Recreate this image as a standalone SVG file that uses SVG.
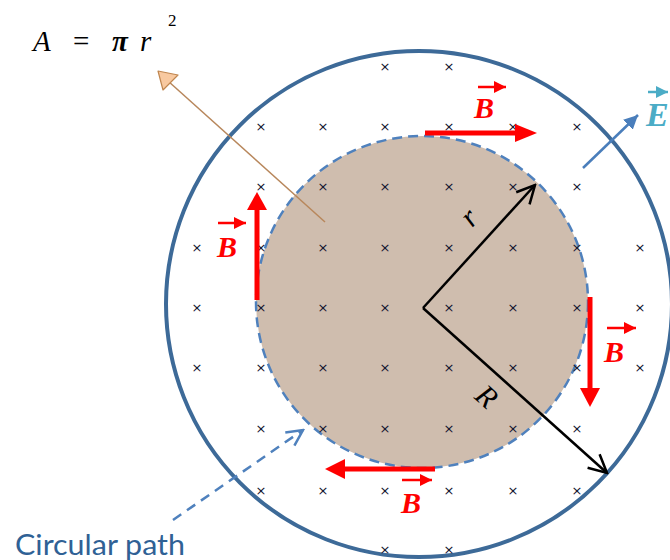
<svg xmlns="http://www.w3.org/2000/svg" width="670" height="560" viewBox="0 0 670 560">
<defs>
<style>
.x{font-family:"DejaVu Sans",sans-serif;font-size:13px;fill:#141430;text-anchor:middle}
.b{font-family:"Liberation Serif",serif;font-size:30px;font-weight:bold;font-style:italic;fill:#ff0000;text-anchor:middle}
.red{stroke:#ff0000;stroke-width:5;fill:none}
.redh{fill:#ff0000}
.vec{stroke:#ff0000;stroke-width:2.5}
.blk{stroke:#000;stroke-width:2.5;fill:none}
.math{font-family:"Liberation Serif",serif;font-style:italic;fill:#000}
</style>
<marker id="open" markerUnits="userSpaceOnUse" markerWidth="24" markerHeight="24" viewBox="0 0 24 24" refX="22" refY="12" orient="auto">
<path d="M4,3 L22,12 L4,21" fill="none" stroke="#000" stroke-width="2.5"/>
</marker>
<marker id="openblue" markerUnits="userSpaceOnUse" markerWidth="24" markerHeight="24" viewBox="0 0 24 24" refX="22" refY="12" orient="auto">
<path d="M6,4 L22,12 L6,20" fill="none" stroke="#4f81bd" stroke-width="2.5"/>
</marker>
<marker id="bluehead" markerUnits="userSpaceOnUse" markerWidth="16" markerHeight="16" viewBox="0 0 16 16" refX="14" refY="8" orient="auto">
<path d="M0,1 L14,8 L0,15 Z" fill="#4a7ebb"/>
</marker>
<marker id="vechead" markerUnits="userSpaceOnUse" markerWidth="14" markerHeight="14" viewBox="0 0 14 14" refX="12" refY="7" orient="auto">
<path d="M0,1 L12,7 L0,13 Z" fill="#ff0000"/>
</marker>
<marker id="vecheadE" markerUnits="userSpaceOnUse" markerWidth="14" markerHeight="14" viewBox="0 0 14 14" refX="12" refY="7" orient="auto">
<path d="M0,1 L12,7 L0,13 Z" fill="#4bacc6"/>
</marker>
</defs>
<rect width="670" height="560" fill="#fff"/>

<g id="inner-disk">
<circle cx="422" cy="302" r="166" fill="#cfbdae" stroke="#4f81bd" stroke-width="2.5" stroke-dasharray="10 6"/>
</g>

<g id="outer-circle">
<circle cx="419" cy="304" r="253" fill="none" stroke="#3d6a98" stroke-width="4"/>
</g>

<g id="field-marks">
<text class="x" x="385" y="71">×</text><text class="x" x="449" y="71">×</text>
<text class="x" x="261" y="131">×</text><text class="x" x="323" y="131">×</text><text class="x" x="385" y="131">×</text><text class="x" x="449" y="131">×</text><text class="x" x="513" y="131">×</text><text class="x" x="577" y="131">×</text>
<text class="x" x="261" y="191">×</text><text class="x" x="323" y="191">×</text><text class="x" x="385" y="191">×</text><text class="x" x="449" y="191">×</text><text class="x" x="513" y="191">×</text><text class="x" x="577" y="191">×</text>
<text class="x" x="197" y="252">×</text><text class="x" x="261" y="252">×</text><text class="x" x="323" y="252">×</text><text class="x" x="385" y="252">×</text><text class="x" x="449" y="252">×</text><text class="x" x="513" y="252">×</text><text class="x" x="577" y="252">×</text><text class="x" x="640" y="252">×</text>
<text class="x" x="197" y="312">×</text><text class="x" x="261" y="312">×</text><text class="x" x="323" y="312">×</text><text class="x" x="385" y="312">×</text><text class="x" x="449" y="312">×</text><text class="x" x="513" y="312">×</text><text class="x" x="577" y="312">×</text><text class="x" x="640" y="312">×</text>
<text class="x" x="197" y="372">×</text><text class="x" x="261" y="372">×</text><text class="x" x="323" y="372">×</text><text class="x" x="385" y="372">×</text><text class="x" x="449" y="372">×</text><text class="x" x="513" y="372">×</text><text class="x" x="577" y="372">×</text><text class="x" x="640" y="372">×</text>
<text class="x" x="261" y="433">×</text><text class="x" x="323" y="433">×</text><text class="x" x="385" y="433">×</text><text class="x" x="449" y="433">×</text><text class="x" x="513" y="433">×</text><text class="x" x="577" y="433">×</text>
<text class="x" x="261" y="495">×</text><text class="x" x="323" y="495">×</text><text class="x" x="385" y="495">×</text><text class="x" x="449" y="495">×</text><text class="x" x="513" y="495">×</text><text class="x" x="577" y="495">×</text>
<text class="x" x="385" y="554">×</text><text class="x" x="449" y="554">×</text>
</g>

<g id="connectors">
<line x1="325" y1="222" x2="168" y2="81" stroke="#b8875c" stroke-width="1.5"/>
<polygon points="158,71 163,90 178,75" fill="#f8c9a0" stroke="#c0864f" stroke-width="1.2" stroke-linejoin="round"/>
<line class="blk" x1="423" y1="308" x2="535" y2="185" marker-end="url(#open)"/>
<line class="blk" x1="423" y1="308" x2="607" y2="473" marker-end="url(#open)"/>
<line x1="583" y1="168" x2="638" y2="115" stroke="#4a7ebb" stroke-width="2.5" marker-end="url(#bluehead)"/>
<line x1="173" y1="520" x2="303" y2="430" stroke="#4f81bd" stroke-width="2.5" stroke-dasharray="10 7" marker-end="url(#openblue)"/>
</g>

<g id="B-top">
<line class="red" x1="425" y1="133" x2="518" y2="133"/>
<polygon class="redh" points="515,124 537,133 515,142"/>
<line class="vec" x1="478" y1="87" x2="506" y2="87" marker-end="url(#vechead)"/>
<text class="b" x="484" y="118">B</text>
</g>

<g id="B-left">
<line class="red" x1="257" y1="300" x2="257" y2="207"/>
<polygon class="redh" points="247,210 257,192 267,210"/>
<line class="vec" x1="218" y1="223" x2="246" y2="223" marker-end="url(#vechead)"/>
<text class="b" x="227" y="257">B</text>
</g>

<g id="B-right">
<line class="red" x1="590" y1="297" x2="590" y2="391"/>
<polygon class="redh" points="580,388 590,407 600,388"/>
<line class="vec" x1="607" y1="328" x2="636" y2="328" marker-end="url(#vechead)"/>
<text class="b" x="614" y="362">B</text>
</g>

<g id="B-bottom">
<line class="red" x1="435" y1="469" x2="342" y2="469"/>
<polygon class="redh" points="345,459 325,469 345,479"/>
<line class="vec" x1="402" y1="480" x2="432" y2="480" marker-end="url(#vechead)"/>
<text class="b" x="411" y="513">B</text>
</g>

<g id="E-label">
<line x1="648" y1="92" x2="668" y2="92" stroke="#4bacc6" stroke-width="2.5" marker-end="url(#vecheadE)"/>
<text x="646" y="126" font-family="'Liberation Serif',serif" font-size="34" font-weight="bold" font-style="italic" fill="#4bacc6">E</text>
</g>

<g id="radius-labels">
<text class="math" font-size="30" transform="translate(476,224) rotate(-47)" text-anchor="middle">r</text>
<text class="math" font-size="30" transform="translate(480,404) rotate(42)" text-anchor="middle">R</text>
</g>

<g id="formula">
<text class="math" x="33" y="51" font-size="29">A</text>
<text x="73" y="51" font-size="29" font-family="'Liberation Serif',serif">=</text>
<text class="math" x="112" y="51" font-size="29" font-weight="bold">π</text>
<text class="math" x="140" y="51" font-size="29">r</text>
<text x="168" y="26" font-size="17" font-family="'Liberation Serif',serif">2</text>
</g>

<g id="circular-path-label">
<text x="15" y="555" font-family="Lato,'Open Sans',sans-serif" font-size="28" fill="#2f6195" textLength="170" lengthAdjust="spacingAndGlyphs">Circular path</text>
</g>
</svg>
